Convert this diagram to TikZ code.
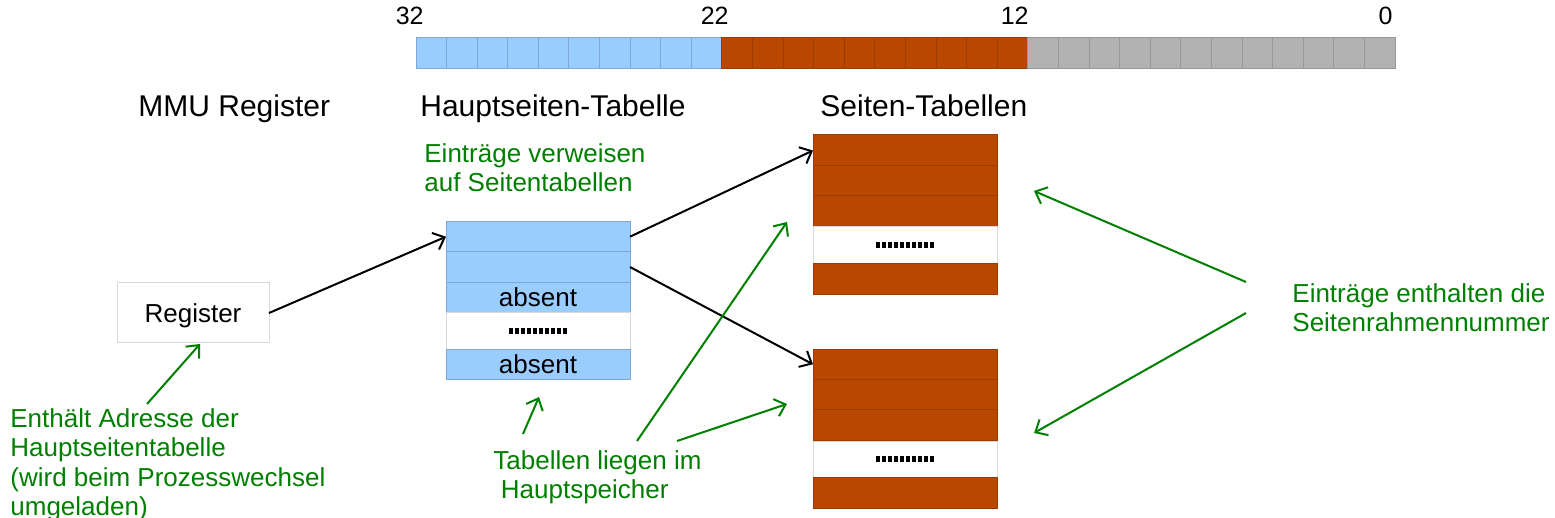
\documentclass[tikz,border=0pt]{standalone}
\usepackage{fontspec}
\setmainfont{Liberation Sans}
\usetikzlibrary{arrows.meta,calc}
\definecolor{cblue}{HTML}{99CCFF}
\definecolor{cblueline}{HTML}{7EA6D6}
\definecolor{cbrown}{HTML}{B94700}
\definecolor{cbrownline}{HTML}{9C3B00}
\definecolor{cgray}{HTML}{B2B2B2}
\definecolor{cgrayline}{HTML}{979797}
\definecolor{cframe}{HTML}{D9D9D9}
\definecolor{cgreen}{HTML}{008000}
\tikzset{
  cell/.style={inner sep=0pt, outer sep=0pt, line width=0.5pt, minimum width=15.297pt, minimum height=15.5pt},
  bitblue/.style={cell, fill=cblue, draw=cblueline},
  bitbrown/.style={cell, fill=cbrown, draw=cbrownline},
  bitgray/.style={cell, fill=cgray, draw=cgrayline},
  bitnum/.style={anchor=north east, inner sep=0pt, font=\fontsize{12.5pt}{14pt}\selectfont},
  heading/.style={anchor=north west, inner sep=0pt, font=\fontsize{15pt}{18pt}\selectfont},
  row/.style={inner sep=0pt, outer sep=0pt, line width=0.5pt, minimum width=92pt, font=\fontsize{13pt}{15pt}\selectfont},
  hrow/.style={row, fill=cblue, draw=cblueline},
  srow/.style={row, fill=cbrown, draw=cbrownline},
  wrow/.style={row, fill=white, draw=cframe},
  regbox/.style={inner sep=0pt, outer sep=0pt, draw=cframe, line width=0.5pt, minimum width=76pt, minimum height=30pt, text depth=0pt, font=\fontsize{13pt}{15pt}\selectfont},
  note/.style={anchor=north west, inner sep=0pt, align=left, text=cgreen, font=\fontsize{13pt}{14.75pt}\selectfont},
  blk/.style={draw=black, line width=1pt, -{Straight Barb[length=5pt,width=9pt,line width=1pt]}},
  grn/.style={draw=cgreen, line width=1pt, -{Straight Barb[length=5pt,width=9pt,line width=1pt]}},
  dots/.style={line width=3pt, dash pattern=on 2pt off 1pt}
}
\begin{document}
\begin{tikzpicture}[x=0.5pt,y=-0.5pt]
\useasboundingbox (0,0) rectangle (1555,518);
\fill[white] (0,0) rectangle (1555,518);

% bit bar
\foreach \i in {0,...,9}
  \node[bitblue] (b\i) at ({416+30.594*(\i+0.5)},52.8) {};
\foreach \i in {10,...,19}
  \node[bitbrown] (b\i) at ({416+30.594*(\i+0.5)},52.8) {};
\foreach \i in {20,...,31}
  \node[bitgray] (b\i) at ({416+30.594*(\i+0.5)},52.8) {};

\node[bitnum] (n32) at (424,7) {32};
\node[bitnum] (n22) at (729,7) {22};
\node[bitnum] (n12) at (1029,7) {12};
\node[bitnum] (n0) at (1393,7) {0};

% headings
\node[heading] (hmmu) at (138,94) {MMU Register};
\node[heading] (hhaupt) at (420,94) {Hauptseiten-Tabelle};
\node[heading] (hseiten) at (820,94) {Seiten-Tabellen};

% register
\node[regbox] (reg) at (193,313) {Register};

% Hauptseiten-Tabelle
\node[hrow, minimum height=15pt] (h1) at (538,236.7) {};
\node[hrow, minimum height=15.3pt] (h2) at (538,267) {};
\node[hrow, minimum height=15.2pt] (h3) at (538,297.5) {absent};
\node[wrow, minimum height=18.15pt] (h4) at (538,330.9) {};
\node[hrow, minimum height=15.15pt] (h5) at (538,364.2) {absent};
\draw[dots] ($(h4.center)+(-29,0)$) -- ($(h4.center)+(29,0)$);

% Seiten-Tabelle oben
\node[srow, minimum height=15.5pt] (s1) at (905,150.5) {};
\node[srow, minimum height=15pt] (s2) at (905,181) {};
\node[srow, minimum height=15.35pt] (s3) at (905,211.3) {};
\node[wrow, minimum height=18.3pt] (s4) at (905,245) {};
\node[srow, minimum height=15.5pt] (s5) at (905,278.8) {};
\draw[dots] ($(s4.center)+(-29,0)$) -- ($(s4.center)+(29,0)$);

% Seiten-Tabelle unten
\node[srow, minimum height=15pt] (t1) at (905,364.3) {};
\node[srow, minimum height=15.35pt] (t2) at (905,394.7) {};
\node[srow, minimum height=15.5pt] (t3) at (905,425.5) {};
\node[wrow, minimum height=18.15pt] (t4) at (905,459.2) {};
\node[srow, minimum height=15.5pt] (t5) at (905,492.8) {};
\draw[dots] ($(t4.center)+(-29,0)$) -- ($(t4.center)+(29,0)$);

% green notes
\node[note] (nverw) at (424,143) {Einträge verweisen\\auf Seitentabellen};
\node[note] (nenth) at (10,408) {Enthält Adresse der\\Hauptseitentabelle\\(wird beim Prozesswechsel\\umgeladen)};
\node[note] (ntab) at (493,450) {Tabellen liegen im\\\hspace{3.75pt}Hauptspeicher};
\node[note] (nrahm) at (1292,283) {Einträge enthalten die\\Seitenrahmennummer};

% black connectors
\draw[blk] (reg.east) -- (h1.west);
\draw[blk] (h1.east) -- (s1.west);
\draw[blk] (h2.east) -- (t1.west);

% green connectors
\coordinate (ga1) at (147,404);
\coordinate (ga2) at (200,344);
\draw[grn] (ga1) -- (ga2);
\coordinate (gb1) at (523,434);
\coordinate (gb2) at (539,397);
\draw[grn] (gb1) -- (gb2);
\coordinate (gc1) at (637,441);
\coordinate (gc2) at (787,222);
\draw[grn] (gc1) -- (gc2);
\coordinate (gd1) at (677,441);
\coordinate (gd2) at (787,404);
\draw[grn] (gd1) -- (gd2);
\coordinate (ge1) at (1246,282);
\coordinate (ge2) at (1034,191);
\draw[grn] (ge1) -- (ge2);
\coordinate (gf1) at (1246,313);
\coordinate (gf2) at (1034,433);
\draw[grn] (gf1) -- (gf2);
\end{tikzpicture}
\end{document}
